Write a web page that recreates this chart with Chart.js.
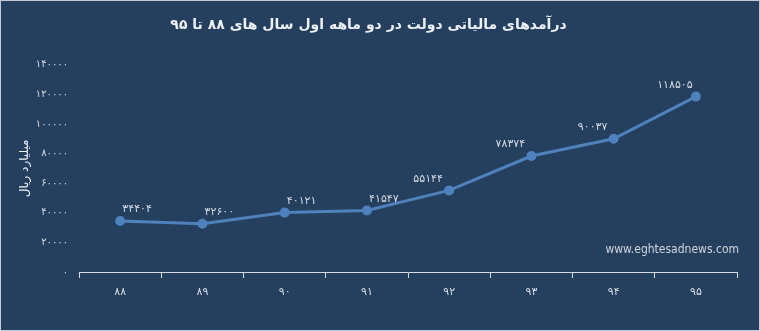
<!DOCTYPE html>
<html lang="fa">
<head>
<meta charset="utf-8">
<title>درآمدهای مالیاتی دولت</title>
<script src="https://cdn.jsdelivr.net/npm/chart.js@4.4.1/dist/chart.umd.min.js"></script>
<style>
  html, body { margin: 0; padding: 0; background: #253f5f; }
  #wrap { width: 760px; height: 331px; position: relative; }
</style>
</head>
<body>
<div id="wrap"><canvas id="revenue"></canvas></div>
<script>
// سال‌ها و درآمد مالیاتی (میلیارد ریال)
const years = [88, 89, 90, 91, 92, 93, 94, 95];
const revenue = [34404, 32600, 40121, 41547, 55144, 78374, 90037, 118505];
const yTicks = [0, 20000, 40000, 60000, 80000, 100000, 120000, 140000];

const faDigits = '۰۱۲۳۴۵۶۷۸۹';
const toFa = (n) => String(n).replace(/[0-9]/g, (d) => faDigits[d]);

const FONT = "'DejaVu Sans', sans-serif";
const FONT_C = "'DejaVu Sans Condensed', 'DejaVu Sans', sans-serif";
const BG = '#253f5f';
const TEXT = '#d6dbe2';
const LINE = '#4f81bd';

// background fill + thin frame round the whole canvas
const framePlugin = {
	id: 'frame',
	beforeDraw(chart) {
		const { ctx, width, height } = chart;
		ctx.save();
		ctx.fillStyle = BG;
		ctx.fillRect(0, 0, width, height);
		ctx.strokeStyle = '#c3ccd8';
		ctx.lineWidth = 1;
		ctx.strokeRect(0.5, 0.5, width - 1, height - 1);
		ctx.restore();
	},
};

// value labels above each point, plus the site address
const labelPlugin = {
	id: 'valueLabels',
	afterDatasetsDraw(chart) {
		const { ctx } = chart;
		const meta = chart.getDatasetMeta(0);
		ctx.save();
		ctx.font = '11px ' + FONT;
		ctx.fillStyle = TEXT;
		ctx.textAlign = 'center';
		ctx.textBaseline = 'bottom';
		meta.data.forEach((pt, i) => {
			const dx = i < 4 ? 17 : -21;
			ctx.fillText(toFa(revenue[i]), pt.x + dx, pt.y - 6);
		});
		ctx.font = '12px ' + FONT_C;
		ctx.fillStyle = '#d0d5dc';
		ctx.textAlign = 'right';
		ctx.textBaseline = 'middle';
		ctx.fillText('www.eghtesadnews.com', chart.width - 21, 250);
		ctx.restore();
	},
};

new Chart(document.getElementById('revenue'), {
	type: 'line',
	data: {
		labels: years.map(toFa),
		datasets: [
			{
				data: revenue,
				borderColor: LINE,
				backgroundColor: LINE,
				borderWidth: 3,
				pointRadius: 3.5,
				pointHoverRadius: 3.5,
				tension: 0,
			},
		],
	},
	options: {
		responsive: true,
		maintainAspectRatio: false,
		animation: false,
		layout: { padding: { left: 0, right: 23, top: 0, bottom: 0 } },
		plugins: {
			legend: { display: false },
			tooltip: { enabled: false },
			title: {
				display: true,
				text: 'درآمدهای مالیاتی دولت در دو ماهه اول سال های ۸۸ تا ۹۵',
				color: '#eef1f5',
				font: { family: FONT, size: 14, weight: 'bold' },
				padding: { top: 17, bottom: 31 },
			},
		},
		scales: {
			x: {
				offset: true,
				grid: {
					offset: true,
					drawOnChartArea: false,
					drawTicks: true,
					tickLength: 6,
					color: '#d9dde3',
				},
				border: { display: true, color: '#d9dde3', width: 1 },
				ticks: { color: TEXT, font: { family: FONT, size: 11 }, padding: 8 },
				afterFit: (s) => { s.height = 59; },
			},
			y: {
				min: 0,
				max: 140000,
				afterBuildTicks: (s) => { s.ticks = yTicks.map((v) => ({ value: v })); },
				grid: { display: false, drawTicks: false },
				border: { display: false },
				ticks: {
					color: TEXT,
					font: { family: FONT, size: 10 },
					padding: 11,
					callback: (v) => toFa(v),
				},
				title: {
					display: true,
					text: 'میلیارد ریال',
					color: '#eef1f5',
					font: { family: FONT, size: 12 },
					padding: { top: 18, bottom: 0 },
				},
				afterFit: (s) => { s.width = 79; },
			},
		},
	},
	plugins: [framePlugin, labelPlugin],
});
</script>
</body>
</html>
